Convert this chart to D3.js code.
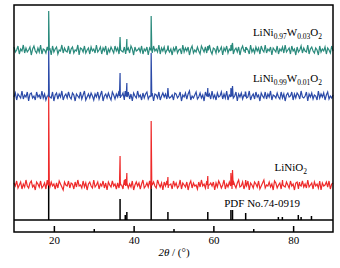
<!DOCTYPE html>
<meta charset="utf-8">
<style>
  body { margin: 0; background: #fff; }
  svg text { font-family: 'Liberation Serif', 'Times New Roman', serif; }
</style>
<svg width="340" height="268"></svg>
<script src="https://d3js.org/d3.v7.min.js"></script>
<script>
// 2theta range and ticks
var xDomain = [10, 90];
var majorTicks = [20, 40, 60, 80];
var minorTicks = [30, 50, 70];

// baselines (offset units) for each pattern
var baseRed = 35, baseBlue = 124, baseGreen = 170;

// peaks: [2theta, height above baseline]
var redPeaks = [[18.7, 90], [36.6, 29], [37.9, 6], [38.3, 12], [44.4, 64], [48.6, 8], [58.6, 9], [64.4, 12], [64.8, 15], [68.1, 5], [77.3, 3], [81.6, 3]];
var bluePeaks = [[18.7, 48], [36.6, 23], [37.9, 5], [38.3, 13], [44.4, 43], [48.6, 8], [58.6, 8], [64.4, 8], [64.8, 10], [68.1, 4]];
var greenPeaks = [[18.7, 39], [36.6, 13], [38.3, 11], [44.4, 34], [48.6, 4], [58.6, 4], [64.4, 5], [64.8, 7], [68.1, 3]];

// reference sticks, PDF No.74-0919
var pdfSticks = [[18.7, 38], [36.6, 21], [37.9, 5], [38.3, 8], [44.4, 38], [48.6, 8], [58.6, 8], [64.4, 10], [64.8, 10], [68.1, 7], [76.3, 3], [77.3, 3], [81.3, 5], [82.0, 3], [84.6, 4]];

// background noise of each trace (1/3 deg steps)
var redNoise = [2,-1,4,-3,0,3,-4,1,-2,5,-1,-3,2,4,-2,0,-5,3,1,-2,
  4,-3,-1,2,-4,5,0,-2,3,-1,1,-4,2,-3,4,1,-2,-5,3,0,
  -1,4,-3,2,1,-4,3,-2,5,-1,0,-3,4,-2,2,-5,1,3,-1,-3,
  5,-2,0,3,-4,1,-1,4,-3,2,-5,3,0,-2,4,-1,1,-4,2,-3,
  3,0,-4,5,-1,2,-3,1,-2,4,-5,0,3,-1,2,-4,1,5,-3,-1,
  2,-2,4,-4,0,3,-1,-3,5,1,-2,2,-5,3,-1,4,-3,0,1,-4,
  4,-1,2,-3,-1,5,-4,2,0,-2,3,-5,1,4,-3,2,-1,0,-4,3,
  -2,5,-1,1,-3,4,-4,0,2,-1,3,-5,2,-2,4,1,-3,0,5,-4,
  1,-2,3,-1,-4,4,0,-3,2,5,-2,-1,3,-4,1,-1,4,-5,2,0,
  -3,3,1,-2,4,-4,-1,2,5,-3,0,-1,3,-2,1,-5,4,2,-3,0,
  2,-4,5,-1,-2,3,0,-3,4,-1,1,-5,2,3,-4,0,-1,4,-2,1,
  -3,5,-2,0,2,-4,3,-1,1,-3,4,-5,2,-1,0,3,-2,4,-4,1,
  2];
var blueNoise = [-1,3,-4,2,0,-2,5,-3,1,-1,4,-5,2,3,-2,0,-4,4,-1,1,
  -3,5,-2,2,-4,0,3,-1,-2,4,-5,1,3,-3,2,-1,5,-4,0,2,
  -2,4,-1,-3,3,1,-5,2,0,-2,4,-3,1,5,-4,-1,2,-2,3,0,
  -4,2,-1,4,-3,1,5,-5,0,2,-2,3,-1,-4,4,1,-3,2,-1,5,
  -2,0,3,-4,1,-1,4,-3,2,-5,3,0,-2,5,-1,1,-4,3,-2,2,
  4,-3,0,-1,3,-5,2,1,-2,4,-4,0,3,-1,2,-3,5,-2,-1,1,
  -4,3,2,-2,0,4,-5,1,-1,3,-3,2,5,-4,0,-2,1,4,-3,-1,
  3,-2,1,-5,4,0,-1,2,-3,5,-2,1,-4,3,-1,0,4,-3,2,-2,
  5,-4,1,-1,3,-2,0,4,-5,2,-1,3,-3,1,4,-2,-1,5,-4,0,
  2,-3,4,-1,1,-5,3,0,-2,4,-3,2,-1,5,-4,1,0,-2,3,-1,
  -3,4,-2,2,-5,1,3,-1,0,4,-4,2,-2,3,1,-3,5,-1,-2,0,
  4,-5,2,-1,3,-3,1,0,-4,5,-2,2,-1,3,-4,1,4,-3,0,-2,
  1];
var greenNoise = [3,-2,0,4,-4,1,-1,5,-3,2,-2,0,3,-5,1,4,-1,-3,2,-2,
  5,-4,1,0,-3,3,-1,2,-5,4,-2,1,3,-4,0,-1,5,-3,2,-1,
  -2,4,-4,1,3,-3,0,-1,5,-5,2,1,-2,4,-3,0,2,-4,3,-1,
  1,-3,5,-2,0,3,-4,2,-1,4,-5,1,-2,3,0,-3,4,-1,2,-4,
  5,-1,-2,3,-4,0,2,-3,4,1,-5,3,-1,0,2,-2,4,-4,1,-1,
  3,-5,2,0,-3,4,-1,1,-2,5,-4,2,-1,3,-3,0,4,-2,1,-5,
  2,-1,4,-3,0,1,-4,5,-2,2,-1,3,-5,1,4,-3,0,-2,3,-1,
  -4,4,1,-2,3,-3,0,5,-1,-4,2,1,-3,4,-2,0,3,-5,2,-1,
  4,-3,1,-1,5,-4,0,2,-2,3,-5,1,4,-1,-3,2,0,-4,5,-2,
  1,-3,3,-1,2,-4,4,0,-2,5,-3,1,-1,3,-5,2,0,-2,4,-4,
  1,-1,3,-3,5,-2,0,2,-4,4,-1,1,-5,3,-2,0,4,-3,2,-1,
  -2,5,-4,1,3,-1,-3,2,0,-5,4,-2,1,-1,3,-4,2,0,-3,4,
  -1];

var svg = d3.select("svg");
var plotLeft = 14, plotRight = 333, plotTop = 5, plotBottom = 232, stickBase = 220;

var x = d3.scaleLinear().domain(xDomain).range([plotLeft, plotRight]);
var y = d3.scaleLinear().domain([0, 215]).range([stickBase, plotTop]);

function trace(base, noise, peaks) {
  var step = (xDomain[1] - xDomain[0]) / (noise.length - 1);
  var pts = noise.map(function(v, i) { return [xDomain[0] + i * step, base + v]; });
  peaks.forEach(function(p) {
    pts.push([p[0] - 0.15, base], [p[0], base + p[1]], [p[0] + 0.15, base]);
  });
  pts.sort(function(a, b) { return a[0] - b[0]; });
  return pts;
}

var line = d3.line()
    .x(function(d) { return x(d[0]); })
    .y(function(d) { return y(d[1]); });

// sticks
svg.append("g").selectAll("line")
  .data(pdfSticks)
  .enter().append("line")
    .attr("x1", function(d) { return x(d[0]); })
    .attr("x2", function(d) { return x(d[0]); })
    .attr("y1", y(0))
    .attr("y2", function(d) { return y(d[1]); })
    .attr("stroke", "#000")
    .attr("stroke-width", 1.5);

[[baseRed, redNoise, redPeaks, "#ee2a2a"],
 [baseBlue, blueNoise, bluePeaks, "#2b4aa8"],
 [baseGreen, greenNoise, greenPeaks, "#2a8a7c"]].forEach(function(t) {
  svg.append("path")
    .datum(trace(t[0], t[1], t[2]))
    .attr("fill", "none")
    .attr("stroke", t[3])
    .attr("stroke-width", 1.2)
    .attr("d", line);
});

// frame and separator
svg.append("rect")
    .attr("x", plotLeft).attr("y", plotTop)
    .attr("width", plotRight - plotLeft).attr("height", plotBottom - plotTop)
    .attr("fill", "none").attr("stroke", "#000").attr("stroke-width", 1.5);
svg.append("line")
    .attr("x1", plotLeft).attr("x2", plotRight)
    .attr("y1", stickBase).attr("y2", stickBase)
    .attr("stroke", "#000").attr("stroke-width", 1.5);

// axis
var ax = svg.append("g")
    .attr("transform", "translate(0," + plotBottom + ")")
    .call(d3.axisBottom(x).tickValues(majorTicks).tickSizeInner(-6).tickSizeOuter(0).tickPadding(4));
ax.select(".domain").remove();
ax.selectAll("line").attr("stroke-width", 1.5);
ax.selectAll("text").style("font-size", "11px").attr("fill", "#000")
  .style("font-family", "'Liberation Serif', serif");

var mx = svg.append("g")
    .attr("transform", "translate(0," + plotBottom + ")")
    .call(d3.axisBottom(x).tickValues(minorTicks).tickSizeInner(-3).tickSizeOuter(0).tickFormat(""));
mx.select(".domain").remove();
mx.selectAll("line").attr("stroke-width", 1.5);

// axis title
var title = svg.append("text")
    .attr("x", 174).attr("y", 256)
    .attr("text-anchor", "middle")
    .style("font-size", "11px");
title.append("tspan").style("font-style", "italic").text("2θ");
title.append("tspan").text(" / (°)");

// labels
function formula(xp, yp, parts) {
  var t = svg.append("text").attr("x", xp).attr("y", yp)
      .attr("text-anchor", "end").style("font-size", "11px");
  var shift = 0;
  parts.forEach(function(p) {
    var sub = p[1];
    var dy = (sub ? 3 : 0) - shift;
    shift = sub ? 3 : 0;
    t.append("tspan").attr("dy", dy).style("font-size", sub ? "7.5px" : "11px").text(p[0]);
  });
}
formula(322, 36, [["LiNi", 0], ["0.97", 1], ["W", 0], ["0.03", 1], ["O", 0], ["2", 1]]);
formula(322, 82, [["LiNi", 0], ["0.99", 1], ["W", 0], ["0.01", 1], ["O", 0], ["2", 1]]);
formula(307, 171, [["LiNiO", 0], ["2", 1]]);

svg.append("text")
    .attr("x", 300).attr("y", 207)
    .attr("text-anchor", "end")
    .style("font-size", "11px")
    .text("PDF No.74-0919");
</script>
